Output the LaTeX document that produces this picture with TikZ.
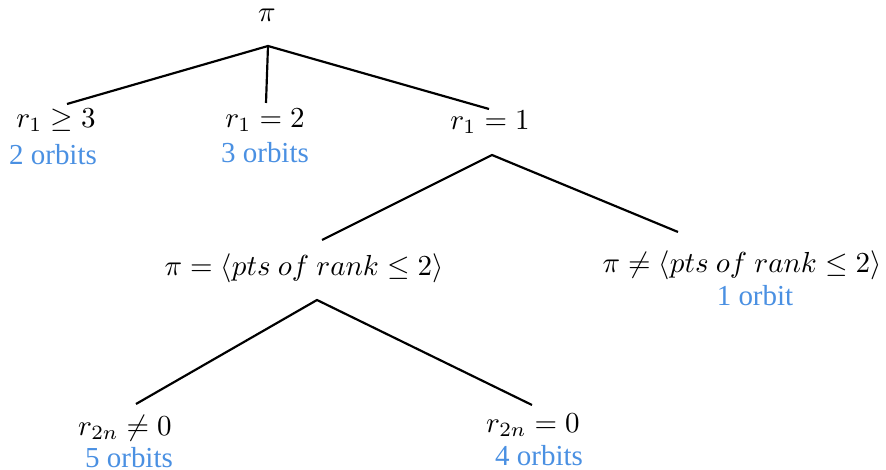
\documentclass[tikz,border=0pt]{standalone}
\usepackage[no-math]{fontspec}
\setmainfont{Liberation Serif}
\definecolor{orbblue}{RGB}{74,144,226}
\begin{document}
\begin{tikzpicture}[x=0.345pt,y=-0.345pt,
  lab/.style={inner sep=0pt,anchor=center},
  orb/.style={inner sep=0pt,anchor=center,text=orbblue,font=\rmfamily},
  edge/.style={line width=0.75pt,black}]
\useasboundingbox (0,0) rectangle (886,470);
% labels
\node[lab] (root) at (267,15) {$\pi$};
\node[lab] (a) at (56,120) {$r_1\geq 3$};
\node[orb] (ao) at (53,155) {2 orbits};
\node[lab] (b) at (265,120) {$r_1=2$};
\node[orb] (bo) at (265,153) {3 orbits};
\node[lab] (c) at (490,122) {$r_1=1$};
\node[lab] (d) at (304,268) {$\pi=\langle pts\ of\ rank\leq 2\rangle$};
\node[lab] (e) at (742,265) {$\pi\neq\langle pts\ of\ rank\leq 2\rangle$};
\node[orb] (eo) at (755,296) {1 orbit};
\node[lab] (f) at (125,428) {$r_{2n}\neq 0$};
\node[orb] (fo) at (129,458) {5 orbits};
\node[lab] (g) at (533,425) {$r_{2n}=0$};
\node[orb] (go) at (539,456) {4 orbits};
% connector ends
\coordinate (rootB) at (268,46);
\coordinate (aT) at (67,104);
\coordinate (bT) at (266,103);
\coordinate (cT) at (489,109);
\coordinate (cB) at (492,155);
\coordinate (dT) at (322,240);
\coordinate (eT) at (678,232);
\coordinate (dB) at (317,300);
\coordinate (fT) at (136,404);
\coordinate (gT) at (532,405);
\draw[edge] (aT) -- (rootB) -- (cT);
\draw[edge] (rootB) -- (bT);
\draw[edge] (dT) -- (cB) -- (eT);
\draw[edge] (fT) -- (dB) -- (gT);
\end{tikzpicture}
\end{document}
